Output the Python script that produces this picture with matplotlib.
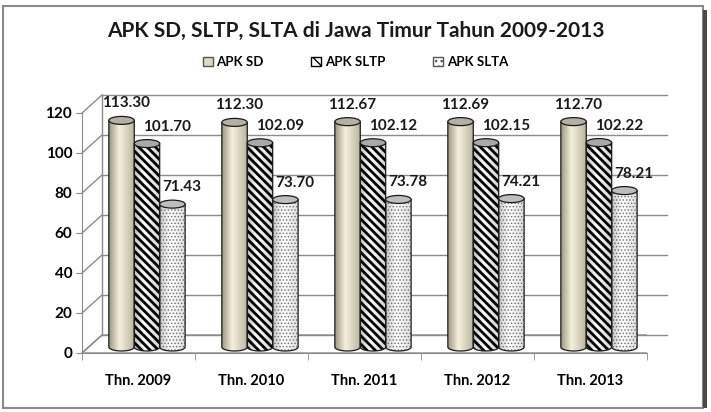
import numpy as np
import matplotlib
matplotlib.use("Agg")
import matplotlib.pyplot as plt
from matplotlib.patches import Ellipse, PathPatch, Rectangle, Patch, Polygon
from matplotlib.path import Path

# data
categories = ['Thn. 2009', 'Thn. 2010', 'Thn. 2011', 'Thn. 2012', 'Thn. 2013']
series_names = ['APK SD', 'APK SLTP', 'APK SLTA']
apk_sd = [113.30, 112.30, 112.67, 112.69, 112.70]
apk_sltp = [101.70, 102.09, 102.12, 102.15, 102.22]
apk_slta = [71.43, 73.70, 73.78, 74.21, 78.21]
y_ticks = [0, 20, 40, 60, 80, 100, 120]

plt.rcParams['font.family'] = ['Lato', 'DejaVu Sans']

GRID = '#8c8c8c'
DX, DY = 0.177, 9          # depth of the fake 3D box
BX, BY = 0.075, 3          # where the cylinders stand
BAR_W = 0.225
EL_H = 4.0

fig = plt.figure(figsize=(7.11, 4.12), dpi=100)
ax = fig.add_axes([82 / 711, 59 / 412, 565 / 711, 270 / 412])

n = len(categories)
x0, x1 = -0.5, n - 0.5

# floor, side wall and back wall grid
ax.add_patch(Polygon([(x0, 0), (x1, 0), (x1 + DX, DY), (x0 + DX, DY)],
                     closed=True, facecolor='white', edgecolor=GRID, lw=1, zorder=1))
for v in y_ticks:
    ax.plot([x0, x0 + DX], [v, v + DY], color=GRID, lw=1, zorder=1, clip_on=False)
    ax.plot([x0 + DX, x1 + DX], [v + DY, v + DY], color=GRID, lw=1, zorder=1, clip_on=False)
ax.plot([x0 + DX, x0 + DX], [DY, y_ticks[-1] + DY], color=GRID, lw=1, zorder=1)


def shade(c_edge, c_mid, c_right):
    t = np.linspace(0, 1, 64)
    c_edge, c_mid, c_right = [np.array(matplotlib.colors.to_rgb(c)) for c in (c_edge, c_mid, c_right)]
    out = np.zeros((1, 64, 3))
    for i, tt in enumerate(t):
        if tt < 0.4:
            f = tt / 0.4
            out[0, i] = c_edge * (1 - f) + c_mid * f
        else:
            f = (tt - 0.4) / 0.6
            out[0, i] = c_mid * (1 - f) + c_right * f
    return out


styles = [
    dict(grad=shade('#9e9982', '#f4f0de', '#b9b49c'), hatch=None, hcol='black', top='#b3b1a5', hlw=0),
    dict(grad=shade('#bdbdbd', '#ffffff', '#d0d0d0'), hatch='\\\\\\\\', hcol='black', top='#a9a9a9', hlw=2.0),
    dict(grad=shade('#c8c8c8', '#ffffff', '#dcdcdc'), hatch='.....', hcol='#6e6e6e', top='#bdbdbd', hlw=0.6),
]
label_dx = [0.044, 0.177, 0.08]


def cylinder(xc, val, st):
    left, right = xc - BAR_W / 2, xc + BAR_W / 2
    base, top = BY, BY + val
    ang = np.linspace(np.pi, 2 * np.pi, 40)
    bx = xc + BAR_W / 2 * np.cos(ang)
    by = base + EL_H / 2 * np.sin(ang)
    verts = [(left, top)] + list(zip(bx, by)) + [(right, top), (left, top)]
    codes = [Path.MOVETO] + [Path.LINETO] * (len(verts) - 2) + [Path.CLOSEPOLY]
    path = Path(verts, codes)
    outline = PathPatch(path, facecolor='none', edgecolor='#1a1a1a', lw=0.9, zorder=4)
    ax.add_patch(outline)
    im = ax.imshow(st['grad'], extent=[left, right, base - EL_H, top], aspect='auto',
                   interpolation='bilinear', zorder=3)
    im.set_clip_path(outline)
    if st['hatch']:
        with plt.rc_context({'hatch.linewidth': st['hlw'], 'hatch.color': st['hcol']}):
            hp = PathPatch(path, facecolor='none', edgecolor=st['hcol'], lw=0,
                           hatch=st['hatch'], zorder=3.5)
            if hasattr(hp, 'set_hatch_linewidth'):
                hp.set_hatch_linewidth(st['hlw'])
        ax.add_patch(hp)
    ax.add_patch(Ellipse((xc, top), BAR_W, EL_H, facecolor=st['top'],
                         edgecolor='#1a1a1a', lw=0.9, zorder=5))


for i in range(n):
    for k, vals in enumerate([apk_sd, apk_sltp, apk_slta]):
        xc = i + BX + (k - 1) * BAR_W
        cylinder(xc, vals[i], styles[k])
        ax.text(xc + label_dx[k], vals[i] + BY + 8.5, f'{vals[i]:.2f}', ha='center',
                va='center', fontsize=11, fontweight='bold', color='#1a1a1a', zorder=6)

ax.set_xlim(x0, x1)
ax.set_ylim(0, 135)
for s in ['top', 'right']:
    ax.spines[s].set_visible(False)
ax.spines['left'].set_color(GRID)
ax.spines['bottom'].set_color(GRID)
ax.spines['left'].set_bounds(0, y_ticks[-1])
ax.set_yticks(y_ticks)
ax.set_yticklabels([str(v) for v in y_ticks], fontsize=11, fontweight='bold')
ax.tick_params(axis='y', length=4, color=GRID, pad=3)
ax.set_xticks(range(n))
ax.set_xticklabels(categories, fontsize=10.5, fontweight='bold')
ax.set_xticks(np.arange(n + 1) - 0.5, minor=True)
ax.tick_params(axis='x', which='major', length=0, pad=15)
ax.tick_params(axis='x', which='minor', length=5, color=GRID)

fig.text(0.5, 1 - 31 / 412, 'APK SD, SLTP, SLTA di Jawa Timur Tahun 2009-2013',
         ha='center', va='center', fontsize=15, fontweight='bold', color='#1a1a1a')

handles = [
    Patch(facecolor='#ddd9c3', edgecolor='#555555', label=series_names[0]),
    Patch(facecolor='white', edgecolor='black', hatch='\\\\\\', label=series_names[1]),
    Patch(facecolor='white', edgecolor='#555555', hatch='...', label=series_names[2]),
]
fig.legend(handles=handles, loc='center', bbox_to_anchor=(0.5, 1 - 62 / 412), ncol=3,
           frameon=False, prop={'size': 9.5, 'weight': 'bold'}, handlelength=0.75,
           handleheight=0.75, handletextpad=0.3, columnspacing=3.6)

# chart frame with a shadow on the right
fig.patches.append(Rectangle((3 / 711, 4 / 412), 700 / 711, 402 / 412, transform=fig.transFigure,
                             facecolor='none', edgecolor='#8a8a8a', lw=1.5))
fig.patches.append(Rectangle((703 / 711, 4 / 412), 4 / 711, 398 / 412, transform=fig.transFigure,
                             facecolor='#4a4a4a', edgecolor='none'))

fig.savefig('out.png', dpi=100)
